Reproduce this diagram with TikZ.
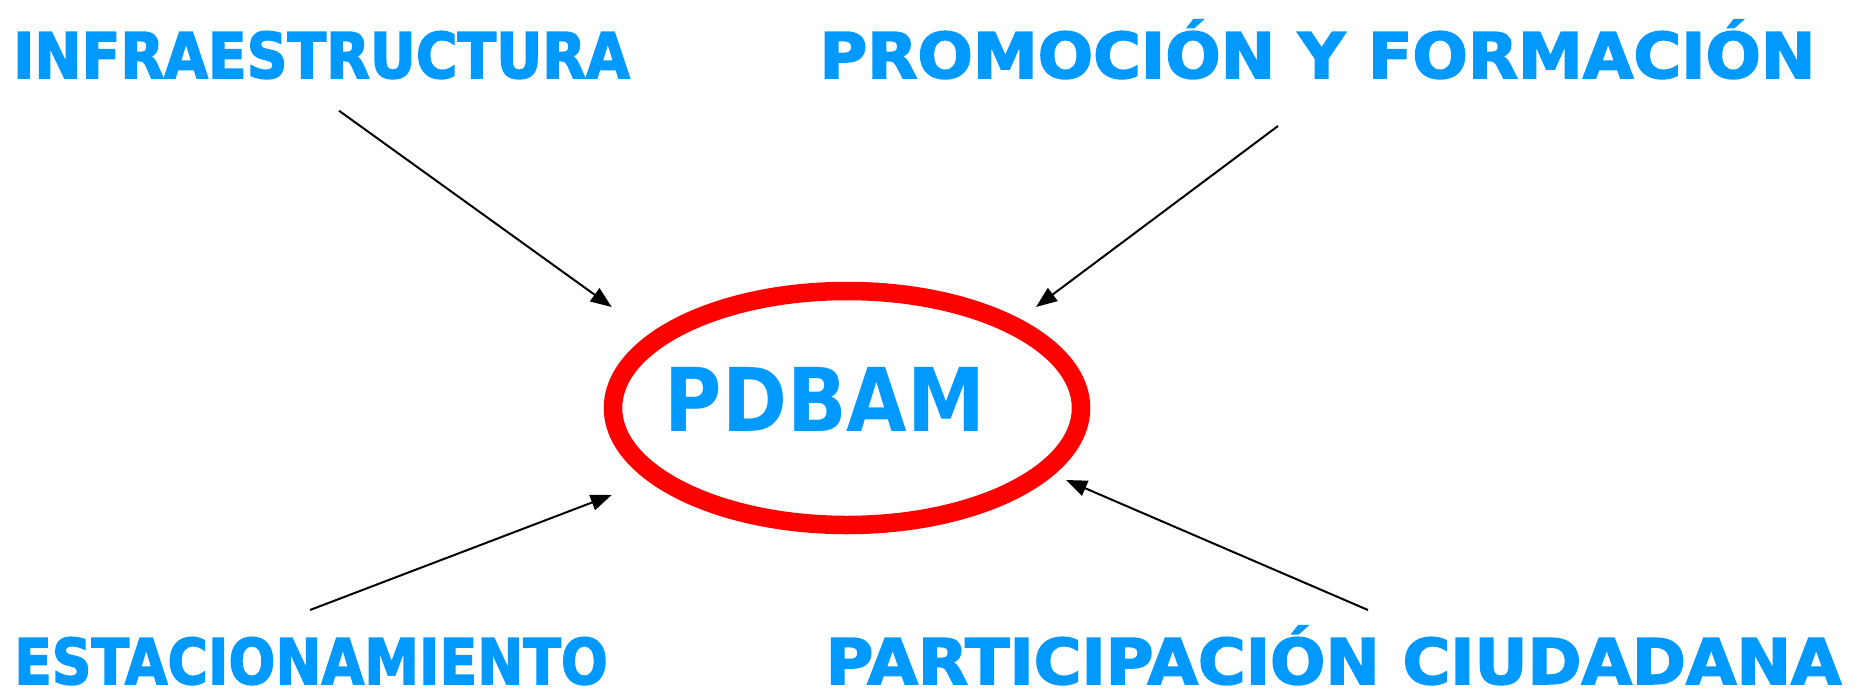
\documentclass[tikz,border=0pt]{standalone}
\usepackage{fontspec}
\setmainfont{DejaVu Sans}
\newfontfamily\lblfont[FakeBold=2.5]{DejaVu Sans Bold}
\usetikzlibrary{arrows.meta}
\definecolor{lblue}{RGB}{0,153,255}
\begin{document}
\begin{tikzpicture}[x=1pt,y=-1pt,
  lbl/.style={text=lblue,font=\fontsize{63}{63}\lblfont\bfseries,inner sep=0,anchor=base,text depth=0pt},
  arr/.style={line width=2pt,-{Triangle[length=21pt,width=16pt]}}]
\useasboundingbox (0,0) rectangle (1861,693);
\node[lbl] (infra) at (321.5,78) {\scalebox{0.90}[1]{INFRAESTRUCTURA}};
\node[lbl] (promo) at (1317.5,78) {\scalebox{1.035}[1]{PROMOCIÓN Y FORMACIÓN}};
\node[lbl] (esta) at (311,684) {\scalebox{0.875}[1]{ESTACIONAMIENTO}};
\node[lbl] (parti) at (1333.5,684) {\scalebox{1.034}[1]{PARTICIPACIÓN CIUDADANA}};
\draw[red,line width=18.5pt] (847,408) ellipse [x radius=234, y radius=117];
\node[lbl,font=\fontsize{88}{88}\selectfont\bfseries] (pdbam) at (825,431) {\scalebox{0.89}[1]{PDBAM}};
\coordinate (s1) at (339,110.7); \coordinate (e1) at (611.7,307);
\coordinate (s2) at (1278,126); \coordinate (e2) at (1036,307);
\coordinate (s3) at (310,610); \coordinate (e3) at (611.7,495);
\coordinate (s4) at (1368,610); \coordinate (e4) at (1066,480);
\draw[arr] (s1) -- (e1);
\draw[arr] (s2) -- (e2);
\draw[arr] (s3) -- (e3);
\draw[arr] (s4) -- (e4);
\end{tikzpicture}
\end{document}
